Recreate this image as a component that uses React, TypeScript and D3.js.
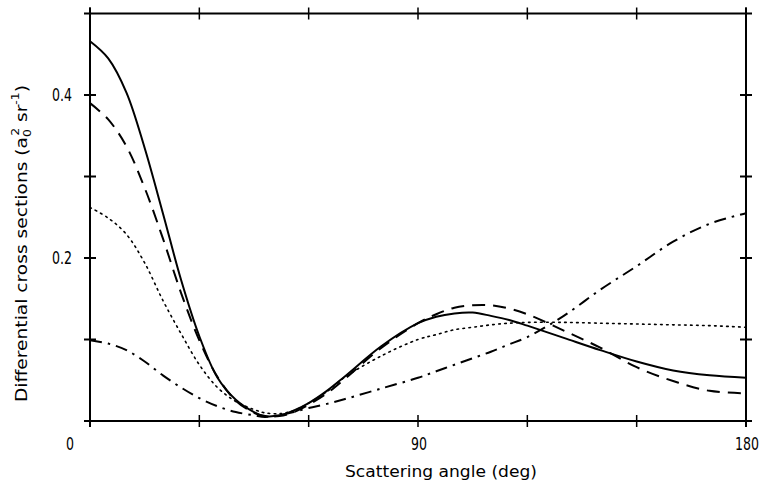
import React from "react";
import * as d3 from "d3";

const angles = [0, 5, 10, 15, 20, 25, 30, 35, 40, 45, 48, 52, 56, 60, 65, 70, 80, 90, 95, 100, 105, 110, 115, 120, 130, 140, 150, 160, 170, 180];
const solidValues = [0.466, 0.445, 0.403, 0.335, 0.255, 0.173, 0.104, 0.053, 0.026, 0.011, 0.006, 0.007, 0.013, 0.022, 0.037, 0.055, 0.092, 0.120, 0.128, 0.132, 0.133, 0.129, 0.124, 0.117, 0.102, 0.087, 0.073, 0.062, 0.056, 0.053];
const dashedValues = [0.390, 0.370, 0.337, 0.286, 0.224, 0.157, 0.099, 0.054, 0.025, 0.010, 0.006, 0.006, 0.011, 0.020, 0.034, 0.052, 0.090, 0.120, 0.131, 0.139, 0.142, 0.142, 0.138, 0.131, 0.111, 0.090, 0.066, 0.049, 0.037, 0.034];
const dottedValues = [0.262, 0.249, 0.229, 0.194, 0.148, 0.107, 0.069, 0.041, 0.024, 0.014, 0.010, 0.009, 0.013, 0.022, 0.036, 0.054, 0.080, 0.100, 0.106, 0.112, 0.115, 0.118, 0.120, 0.121, 0.121, 0.120, 0.119, 0.118, 0.117, 0.115];
const dashDotValues = [0.099, 0.095, 0.087, 0.073, 0.056, 0.041, 0.028, 0.018, 0.011, 0.007, 0.005, 0.007, 0.011, 0.016, 0.021, 0.027, 0.040, 0.053, 0.061, 0.069, 0.077, 0.085, 0.094, 0.103, 0.129, 0.161, 0.190, 0.220, 0.242, 0.255];

const xTicks = [0, 30, 60, 90, 120, 150, 180];
const xTickLabels = [{ v: 90, t: "90" }, { v: 180, t: "180" }];
const yTicks = [0.1, 0.2, 0.3, 0.4];
const yTickLabels = [{ v: 0.2, t: "0.2" }, { v: 0.4, t: "0.4" }];

const FONT = "'DejaVu Sans', sans-serif";

export default function App() {
  const x = d3.scaleLinear().domain([0, 180]).range([90, 746]);
  const y = d3.scaleLinear().domain([0, 0.5]).range([421, 13.5]);
  const line = (vals: number[]) =>
    d3
      .line<number>()
      .x((_, i) => x(angles[i]))
      .y((d) => y(d))
      .curve(d3.curveCatmullRom.alpha(0.5))(vals) as string;

  const x0 = x(0), x1 = x(180), yb = y(0), yt = y(0.5);
  const ext = 6;
  const tk = 6;
  const sx = 0.74;

  const series = [
    { vals: solidValues, dash: undefined, w: 2 },
    { vals: dashedValues, dash: "13 8", w: 2 },
    { vals: dottedValues, dash: "1.6 4.4", w: 1.6 },
    { vals: dashDotValues, dash: "12 6 2.5 6", w: 2 },
  ];

  return (
    <svg width={760} height={487} style={{ position: "absolute", left: 0, top: 0, background: "#fff" }}>
      <rect x={0} y={0} width={760} height={487} fill="#fff" />
      <g stroke="#000" strokeWidth={2} fill="none">
        <line x1={x0 - ext} x2={x1 + ext} y1={yb} y2={yb} />
        <line x1={x0 - ext} x2={x1 + ext} y1={yt} y2={yt} />
        <line x1={x0} x2={x0} y1={yt - ext} y2={yb + ext} />
        <line x1={x1} x2={x1} y1={yt - ext} y2={yb + ext} />
        {xTicks.map((t) => (
          <g key={"xt" + t}>
            <line x1={x(t)} x2={x(t)} y1={yb - tk} y2={yb + tk} strokeWidth={1.5} />
            <line x1={x(t)} x2={x(t)} y1={yt - tk} y2={yt + tk} strokeWidth={1.5} />
          </g>
        ))}
        {yTicks.map((t) => (
          <g key={"yt" + t}>
            <line x1={x0 - tk} x2={x0 + tk} y1={y(t)} y2={y(t)} />
            <line x1={x1 - tk} x2={x1 + tk} y1={y(t)} y2={y(t)} />
          </g>
        ))}
      </g>
      <g fill="none" stroke="#000" strokeLinejoin="round">
        {series.map((s, i) => (
          <path key={i} d={line(s.vals)} strokeWidth={s.w} strokeDasharray={s.dash} strokeLinecap={i === 2 ? "round" : "butt"} />
        ))}
      </g>
      <g fontFamily={FONT} fontSize={17} fill="#000">
        <text transform={`translate(70,450) scale(${sx},1)`} textAnchor="middle">0</text>
        {xTickLabels.map((d) => (
          <text key={d.t} transform={`translate(${x(d.v) + 1},450) scale(${sx},1)`} textAnchor="middle">{d.t}</text>
        ))}
        {yTickLabels.map((d) => (
          <text key={d.t} transform={`translate(72,${y(d.v) + 6}) scale(${sx},1)`} textAnchor="end">{d.t}</text>
        ))}
      </g>
      <text x={441} y={477} textAnchor="middle" fontFamily={FONT} fontSize={16.5} textLength={192} lengthAdjust="spacingAndGlyphs">
        Scattering angle (deg)
      </text>
      <text
        transform="translate(27,402) rotate(-90)"
        x={0}
        y={0}
        fontFamily={FONT}
        fontSize={16.5}
        textLength={317}
        lengthAdjust="spacingAndGlyphs"
      >
        Differential  cross  sections  (a<tspan fontSize={11} dy={4}>0</tspan>
        <tspan fontSize={11} dy={-12} dx={-6}>2</tspan>
        <tspan dy={8}> sr</tspan>
        <tspan fontSize={11} dy={-8}>-1</tspan>
        <tspan dy={8}>)</tspan>
      </text>
    </svg>
  );
}
